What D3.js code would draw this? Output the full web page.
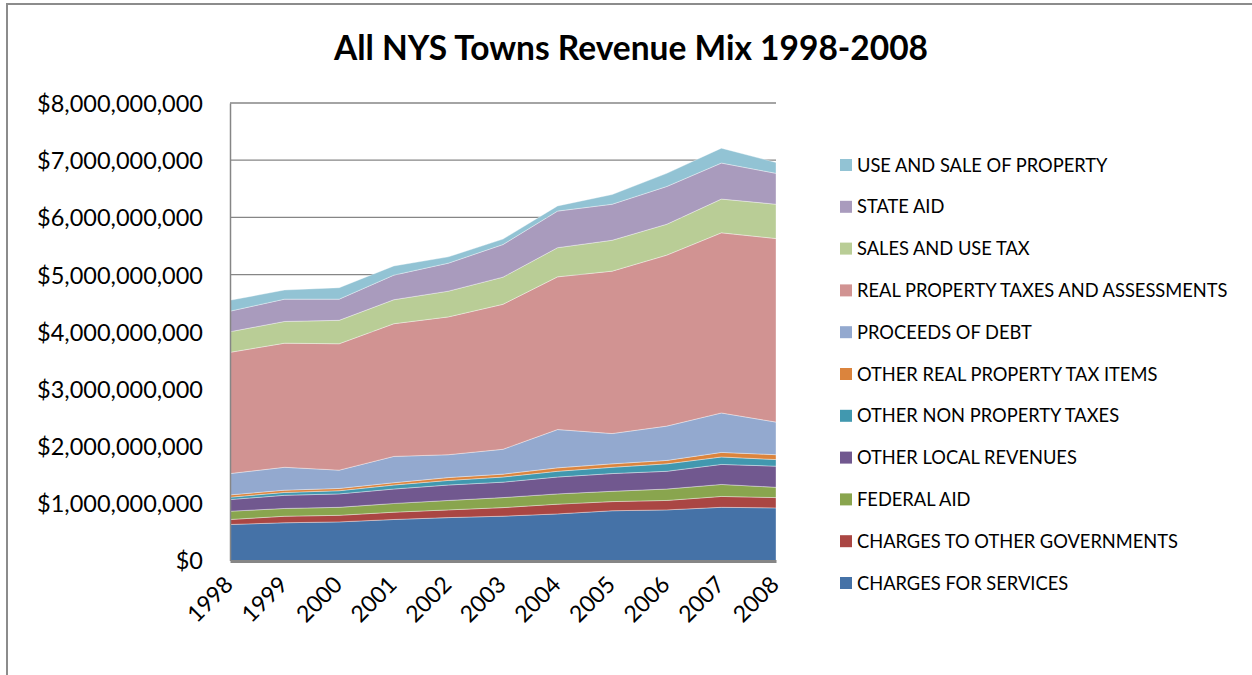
<!DOCTYPE html>
<html>
    <head>
        <meta charset="utf-8">
        <title>All NYS Towns Revenue Mix 1998-2008</title>
    </head>
<style>
body {
    margin: 0;
    background: white;
}
svg text {
    font-family: Lato, "Open Sans", sans-serif;
    fill: #000;
}
.grid line {
    stroke: #868686;
    stroke-width: 1.3;
}
</style>
<body>
<script src="https://d3js.org/d3.v7.min.js"></script>
<script>

// years on the category axis
var years = ["1998", "1999", "2000", "2001", "2002", "2003", "2004", "2005", "2006", "2007", "2008"];

// revenue per source, in billions of dollars
var chargesForServices = [0.63, 0.66, 0.675, 0.717, 0.75, 0.775, 0.815, 0.87, 0.885, 0.93, 0.92];
var chargesToOtherGov = [0.087, 0.114, 0.115, 0.128, 0.135, 0.15, 0.17, 0.16, 0.165, 0.19, 0.18];
var federalAid = [0.145, 0.136, 0.14, 0.152, 0.165, 0.175, 0.18, 0.18, 0.20, 0.21, 0.18];
var otherLocalRevenues = [0.204, 0.23, 0.235, 0.253, 0.27, 0.27, 0.295, 0.31, 0.31, 0.35, 0.37];
var otherNonPropertyTaxes = [0.041, 0.05, 0.055, 0.07, 0.08, 0.09, 0.10, 0.11, 0.13, 0.13, 0.115];
var otherRealPropertyItems = [0.04, 0.04, 0.04, 0.04, 0.05, 0.05, 0.06, 0.06, 0.06, 0.08, 0.085];
var proceedsOfDebt = [0.373, 0.40, 0.32, 0.46, 0.40, 0.435, 0.67, 0.53, 0.60, 0.69, 0.57];
var realPropertyTaxes = [2.12, 2.17, 2.21, 2.32, 2.41, 2.535, 2.67, 2.84, 2.99, 3.15, 3.21];
var salesAndUseTax = [0.36, 0.38, 0.41, 0.42, 0.45, 0.475, 0.51, 0.54, 0.54, 0.59, 0.60];
var stateAid = [0.36, 0.39, 0.37, 0.43, 0.49, 0.57, 0.64, 0.63, 0.66, 0.63, 0.54];
var useAndSaleOfProperty = [0.19, 0.16, 0.20, 0.16, 0.11, 0.095, 0.09, 0.17, 0.23, 0.26, 0.19];

// series names, bottom of the stack first
var seriesNames = ["CHARGES FOR SERVICES", "CHARGES TO OTHER GOVERNMENTS", "FEDERAL AID",
    "OTHER LOCAL REVENUES", "OTHER NON PROPERTY TAXES", "OTHER REAL PROPERTY TAX ITEMS",
    "PROCEEDS OF DEBT", "REAL PROPERTY TAXES AND ASSESSMENTS", "SALES AND USE TAX",
    "STATE AID", "USE AND SALE OF PROPERTY"];
var seriesValues = [chargesForServices, chargesToOtherGov, federalAid, otherLocalRevenues,
    otherNonPropertyTaxes, otherRealPropertyItems, proceedsOfDebt, realPropertyTaxes,
    salesAndUseTax, stateAid, useAndSaleOfProperty];
var colors = ["#4572A7", "#AA4643", "#89A54E", "#71588F", "#4198AF", "#DB843D",
    "#93A9CF", "#D19392", "#B9CD96", "#A99BBD", "#92C3D4"];

// y axis ticks in dollars
var yTicks = [0, 1e9, 2e9, 3e9, 4e9, 5e9, 6e9, 7e9, 8e9];

// build rows for d3.stack
var rows = years.map(function(y, i) {
    var row = {year: y};
    seriesNames.forEach(function(name, s) {
        row[name] = seriesValues[s][i] * 1e9;
    });
    return row;
});

var width = 1252,
    height = 675;

var svg = d3.select("body")
    .append("svg")
        .attr("width", width)
        .attr("height", height);

// outer chart frame
svg.append("rect")
    .attr("x", 7)
    .attr("y", 4)
    .attr("width", 1260)
    .attr("height", 700)
    .attr("fill", "white")
    .attr("stroke", "#8c8c8c")
    .attr("stroke-width", 2);

// scales
var xScale = d3.scalePoint()
    .domain(years)
    .range([230, 776]);

var yScale = d3.scaleLinear()
    .domain([0, 8e9])
    .range([560.5, 103]);

// gridlines
svg.append("g")
    .attr("class", "grid")
    .selectAll("line")
    .data(yTicks.slice(1))
    .enter()
    .append("line")
        .attr("x1", 230)
        .attr("x2", 776)
        .attr("y1", function(d) { return yScale(d); })
        .attr("y2", function(d) { return yScale(d); });

// stacked areas
var stack = d3.stack().keys(seriesNames);
var layers = stack(rows);

var area = d3.area()
    .x(function(d) { return xScale(d.data.year); })
    .y0(function(d) { return yScale(d[0]); })
    .y1(function(d) { return yScale(d[1]); });

svg.append("g")
    .selectAll("path")
    .data(layers)
    .enter()
    .append("path")
        .attr("d", area)
        .attr("fill", function(d, i) { return colors[i]; })
        .attr("stroke", "rgba(255,255,255,0.45)")
        .attr("stroke-width", 0.8);

// y axis
var yAxis = d3.axisLeft(yScale)
    .tickValues(yTicks)
    .tickSize(0)
    .tickPadding(27)
    .tickFormat(function(d) { return "$" + d3.format(",")(d); });

var gy = svg.append("g")
    .attr("transform", "translate(230,0)")
    .call(yAxis);
gy.select(".domain").attr("stroke", "#868686").attr("stroke-width", 1.5);
gy.selectAll("text")
    .style("font-size", "23.5px")
    .attr("dy", "0.36em");

// x axis
var xAxis = d3.axisBottom(xScale)
    .tickSize(0)
    .tickFormat(function(d) { return d; });

var gx = svg.append("g")
    .attr("transform", "translate(0,561)")
    .call(xAxis);
gx.select(".domain").attr("stroke", "#868686").attr("stroke-width", 3);
gx.selectAll("text")
    .style("font-size", "23px")
    .style("text-anchor", "end")
    .attr("y", 0)
    .attr("dy", 0)
    .attr("transform", "translate(4,25) rotate(-45)");

// title
svg.append("text")
    .attr("x", 631)
    .attr("y", 60)
    .style("text-anchor", "middle")
    .style("font-size", "33.5px")
    .style("font-weight", "bold")
    .text("All NYS Towns Revenue Mix 1998-2008");

// legend, top entry is the top of the stack
var legendNames = seriesNames.slice().reverse();
var legendColors = colors.slice().reverse();

var legend = svg.append("g")
    .selectAll("g")
    .data(legendNames)
    .enter()
    .append("g")
        .attr("transform", function(d, i) { return "translate(840," + (165 + i * 41.8) + ")"; });

legend.append("rect")
    .attr("x", 0)
    .attr("y", -6)
    .attr("width", 12)
    .attr("height", 12)
    .attr("fill", function(d, i) { return legendColors[i]; });

legend.append("text")
    .attr("x", 17)
    .attr("y", 0)
    .attr("dy", "0.36em")
    .style("font-size", "18.3px")
    .text(function(d) { return d; });

</script>
</body>
</html>
